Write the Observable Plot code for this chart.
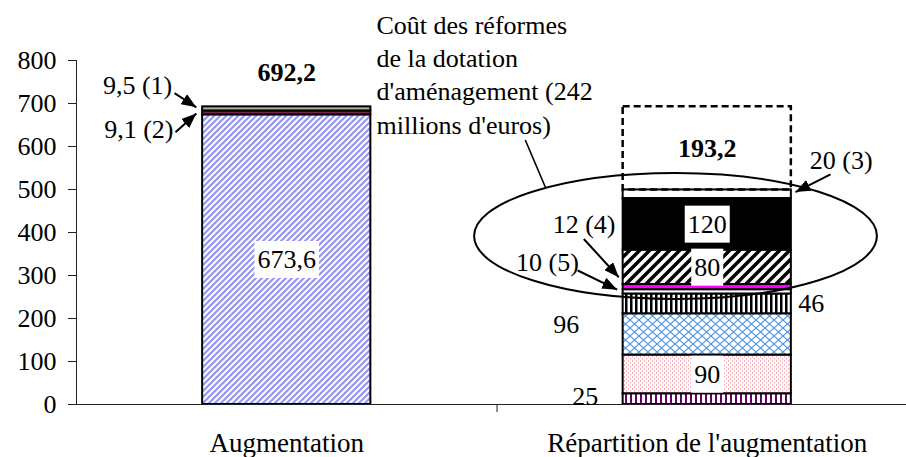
<!DOCTYPE html>
<html><head><meta charset="utf-8">
<script src="https://cdn.jsdelivr.net/npm/d3@7"></script>
<script src="https://cdn.jsdelivr.net/npm/@observablehq/plot@0.6"></script>
<style>
html,body{margin:0;padding:0;background:#fff;}
#chart svg{display:block;}
</style></head><body><div id="chart"></div>
<script>
// ---- data ----
const categories = ["Augmentation", "Répartition de l'augmentation"];
const augmentationLabels = ["673,6", "9,1 (2)", "9,5 (1)"];
const augmentationValues = [673.6, 9.1, 9.5];
const repartitionLabels = ["25", "90", "96", "46", "10 (5)", "12 (4)", "80", "120", "20 (3)"];
const repartitionValues = [25, 90, 96, 46, 10, 12, 80, 120, 20];
const remainderLabel = "193,2";
const remainderValue = 193.2;
const totalLabel = "692,2";
const yTicks = [0, 100, 200, 300, 400, 500, 600, 700, 800];
const noteLines = ["Coût des réformes", "de la dotation", "d'aménagement (242", "millions d'euros)"];

// ---- styles ----
const augmentationFills = ["url(#hatchBlue)", "#7f2050", "#b8b088"];
const repartitionFills = ["url(#stripesPurple)", "url(#dotsPink)", "url(#crossBlue)", "url(#stripesBlack)", "#ffffff", "#ff00ff", "url(#hatchBlack)", "#000000", "#ffffff"];
const boxedLabels = ["673,6", "90", "80", "120"];
const FS = 26;

function stack(cat, labels, values, fills) {
  let s = 0;
  return values.map((v, i) => ({cat, label: labels[i], value: v, y1: s, y2: (s += v), fill: fills[i]}));
}
const left = stack(0, augmentationLabels, augmentationValues, augmentationFills);
const right = stack(1, repartitionLabels, repartitionValues, repartitionFills);
const rightTop = right[right.length - 1].y2;
const remainder = [{cat: 1, label: remainderLabel, y1: rightTop, y2: rightTop + remainderValue}];
const totals = [{cat: 0, label: totalLabel, value: d3.sum(augmentationValues)}];
const all = [...left, ...right];
const mid = d => (d.y1 + d.y2) / 2;
const half = 0.2;

// annotation layout (data coordinates)
const calloutsEnd = [
  {label: "9,5 (1)", tx: -0.2724, ty: 742, x1: -0.2669, y1: 724, x2: -0.215, y2: 691},
  {label: "9,1 (2)", tx: -0.2693, ty: 639, x1: -0.2646, y1: 633, x2: -0.215, y2: 677},
  {label: "12 (4)", tx: 0.7818, ty: 418.6, x1: 0.7064, y1: 385, x2: 0.7897, y2: 296},
  {label: "10 (5)", tx: 0.6946, ty: 330, x1: 0.692, y1: 311.6, x2: 0.7858, y2: 267}
];
const calloutsStart = [
  {label: "20 (3)", tx: 1.2439, ty: 567, x1: 1.2931, y1: 535, x2: 1.2099, y2: 494}
];
const leader = [{x1: 0.5678, y1: 614, x2: 0.6153, y2: 504.7}];
const reformEllipse = {cx: 0.9257, rx: 0.479, cy: 390.7, ry: 146.5};
const note = [{text: noteLines.join("\n"), x: 0.2134, y: 771}];

const ns = "http://www.w3.org/2000/svg";
function defsMark() {
  const g = document.createElementNS(ns, "g");
  g.innerHTML = `<defs>
  <pattern id="hatchBlue" patternUnits="userSpaceOnUse" width="6" height="6">
    <rect width="6" height="6" fill="#fff"/>
    <path d="M-1,1L1,-1M0,6L6,0M5,7L7,5" stroke="#9696f2" stroke-width="2.2"/>
  </pattern>
  <pattern id="hatchBlack" patternUnits="userSpaceOnUse" width="10" height="10">
    <rect width="10" height="10" fill="#fff"/>
    <path d="M-2,2L2,-2M0,10L10,0M8,12L12,8" stroke="#000" stroke-width="3.5"/>
  </pattern>
  <pattern id="stripesBlack" patternUnits="userSpaceOnUse" width="5" height="5">
    <rect width="5" height="5" fill="#fff"/>
    <rect width="2.5" height="5" fill="#000"/>
  </pattern>
  <pattern id="stripesPurple" patternUnits="userSpaceOnUse" width="5" height="5">
    <rect width="5" height="5" fill="#fff"/>
    <rect width="2" height="5" fill="#660066"/>
  </pattern>
  <pattern id="dotsPink" patternUnits="userSpaceOnUse" width="4" height="4">
    <rect width="4" height="4" fill="#fff"/>
    <rect x="0" y="0" width="1" height="1.5" fill="#f4a8b2"/>
    <rect x="2" y="2" width="1" height="1.5" fill="#f4a8b2"/>
  </pattern>
  <pattern id="crossBlue" patternUnits="userSpaceOnUse" width="9" height="8">
    <rect width="9" height="8" fill="#fff"/>
    <path d="M0,0L9,8M9,0L0,8" stroke="#4a94e4" stroke-width="1.1"/>
  </pattern>
  <marker id="tri" viewBox="0 0 10 10" refX="10" refY="5" markerUnits="userSpaceOnUse" markerWidth="15" markerHeight="12" orient="auto" preserveAspectRatio="none">
    <path d="M0,0L10,5L0,10z" fill="#000"/>
  </marker>
  </defs>`;
  return g;
}
function ellipseMark(index, scales) {
  const {x, y} = scales;
  const g = document.createElementNS(ns, "g");
  const e = document.createElementNS(ns, "ellipse");
  const cx = x(reformEllipse.cx), cy = y(reformEllipse.cy);
  e.setAttribute("cx", cx);
  e.setAttribute("cy", cy);
  e.setAttribute("rx", x(reformEllipse.cx + reformEllipse.rx) - cx);
  e.setAttribute("ry", y(reformEllipse.cy - reformEllipse.ry) - cy);
  e.setAttribute("fill", "none");
  e.setAttribute("stroke", "#000");
  e.setAttribute("stroke-width", 2);
  g.append(e);
  return g;
}

const chart = Plot.plot({
  width: 906,
  height: 457,
  marginTop: 60,
  marginBottom: 53,
  marginLeft: 76,
  marginRight: 0,
  style: {fontFamily: "'Liberation Serif', 'Times New Roman', serif", fontSize: FS + "px", color: "#000", background: "#fff"},
  x: {domain: [-0.5, 1.5], range: [76, 917], label: null},
  y: {domain: [0, 800], label: null},
  color: {type: "identity"},
  marks: [
    defsMark,
    Plot.rect(all, {x1: d => d.cat - half, x2: d => d.cat + half, y1: "y1", y2: "y2", fill: "fill", stroke: "#000", strokeWidth: 2}),
    Plot.rect(remainder, {x1: d => d.cat - half, x2: d => d.cat + half, y1: "y1", y2: "y2", fill: "none", stroke: "#000", strokeWidth: 2.5, strokeDasharray: "7,4"}),
    Plot.axisY({ticks: yTicks, tickSize: 8, tickPadding: 12, fontSize: FS, label: null, stroke: "#222"}),
    Plot.ruleX([-0.5], {y1: () => 0, y2: () => yTicks[yTicks.length - 1], stroke: "#222"}),
    Plot.ruleY([0], {x1: () => -0.5, x2: () => 1.5, stroke: "#222"}),
    Plot.axisX({ticks: [0.5], tickSize: 8, tickFormat: () => "", label: null, stroke: "#222"}),
    Plot.axisX({ticks: [0, 1], tickSize: 0, tickPadding: 28, tickFormat: i => categories[i], fontSize: 27, label: null}),
    // value labels
    Plot.text(totals, {x: "cat", y: "value", text: "label", dy: -34, fontWeight: "bold", fontSize: FS}),
    Plot.text(remainder, {x: "cat", y: mid, text: "label", fontWeight: "bold", fontSize: FS}),
    Plot.text(all.filter(d => boxedLabels.includes(d.label)), {x: "cat", y: mid, text: "label", fontSize: FS}),
    Plot.text(right.filter(d => d.label === "46"), {x: d => d.cat + half, y: mid, text: "label", textAnchor: "start", dx: 7, fontSize: FS}),
    Plot.text(right.filter(d => d.label === "96"), {x: d => d.cat - half, y: mid, text: "label", textAnchor: "end", dx: -44, dy: -10, fontSize: FS}),
    Plot.text(right.filter(d => d.label === "25"), {x: d => d.cat - half, y: mid, text: "label", textAnchor: "end", dx: -25, dy: -2, fontSize: FS}),
    // callouts
    Plot.text(calloutsEnd, {x: "tx", y: "ty", text: "label", textAnchor: "end", fontSize: FS}),
    Plot.text(calloutsStart, {x: "tx", y: "ty", text: "label", textAnchor: "start", fontSize: FS}),
    Plot.link([...calloutsEnd, ...calloutsStart], {x1: "x1", y1: "y1", x2: "x2", y2: "y2", stroke: "#000", strokeWidth: 2}),
    // reform note
    Plot.text(note, {x: "x", y: "y", text: "text", textAnchor: "start", lineHeight: 1.28, fontSize: FS}),
    Plot.arrow(leader, {x1: "x1", y1: "y1", x2: "x2", y2: "y2", headLength: 0, stroke: "#000", strokeWidth: 1.6}),
    ellipseMark
  ]
});
document.getElementById("chart").append(chart);

// arrowheads
chart.querySelectorAll('g[aria-label="link"] path, g[aria-label="link"] line').forEach(p => p.setAttribute("marker-end", "url(#tri)"));
// white label boxes
chart.querySelectorAll("text").forEach(t => {
  if (!boxedLabels.includes(t.textContent)) return;
  const b = t.getBBox();
  const r = document.createElementNS(ns, "rect");
  r.setAttribute("x", b.x - 3);
  r.setAttribute("y", b.y - 4);
  r.setAttribute("width", b.width + 6);
  r.setAttribute("height", b.height + 8);
  r.setAttribute("fill", "#fff");
  if (t.getAttribute("transform")) r.setAttribute("transform", t.getAttribute("transform"));
  t.parentNode.insertBefore(r, t);
});
</script>
</body></html>
